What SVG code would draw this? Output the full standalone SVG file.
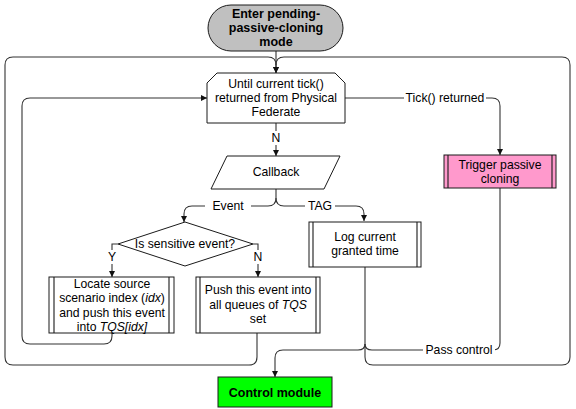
<svg xmlns="http://www.w3.org/2000/svg" width="576" height="409" viewBox="0 0 576 409">
<style>
.n{stroke:#1a1a1a;stroke-width:1;fill:#fff}
.c{stroke:#333;stroke-width:1.1;fill:none}
.t{font-family:"Liberation Sans",Arial,sans-serif;font-size:12.2px;fill:#000;text-anchor:middle;dominant-baseline:central}
.b{font-weight:bold;font-size:12.5px}
.lb{fill:#fff;stroke:none}
</style>
<defs>
<marker id="a" viewBox="0 0 8 8" refX="8" refY="4" markerWidth="6" markerHeight="6" markerUnits="userSpaceOnUse" orient="auto">
<path d="M0,0 L8,4 L0,8 Z" fill="#111"/>
</marker>
</defs>
<rect width="576" height="409" fill="#fff"/>
<g id="connectors">
<path class="c" d="M257,333 L257,357 Q257,365 249,365 L13,365 Q5,365 5,357 L5,65 Q5,57 13,57 L268,57 Q276,57 276,65 L276,73" marker-end="url(#a)"/>
<path class="c" d="M365,267 L365,357 Q365,365 373,365 L562,365 Q570,365 570,357 L570,65 Q570,57 562,57 L284,57 Q276,57 276,65"/>
<path class="c" d="M276,51 L276,73" marker-end="url(#a)"/>
<path class="c" d="M112,333 L112,336 Q112,344 104,344 L30,344 Q22,344 22,336 L22,106 Q22,98 30,98 L207,98" marker-end="url(#a)"/>
<path class="c" d="M276,123 L276,131"/>
<path class="c" d="M276,145 L276,156" marker-end="url(#a)"/>
<path class="c" d="M345,98 L492,98 Q500,98 500,106 L500,155" marker-end="url(#a)"/>
<path class="c" d="M276,189 L276,198 Q276,206 268,206 L192,206 Q184,206 184,214 L184,222" marker-end="url(#a)"/>
<path class="c" d="M276,198 Q276,206 284,206 L356,206 Q364,206 364,214 L364,221" marker-end="url(#a)"/>
<path class="c" d="M118,244 L112,244 L112,250"/>
<path class="c" d="M112,264 L112,277" marker-end="url(#a)"/>
<path class="c" d="M253,244 L258,244 L258,250"/>
<path class="c" d="M258,264 L258,277" marker-end="url(#a)"/>
<path class="c" d="M500,188 L500,343 Q500,350 493,350 L372,350 Q365,350 365,344"/>
<path class="c" d="M365,344 Q365,350 358,350 L283,350 Q275,350 275,358 L275,377" marker-end="url(#a)"/>
<rect class="lb" x="270" y="132" width="12" height="12"/>
<text class="t" x="276" y="138">N</text>
<rect class="lb" x="404" y="91" width="82" height="14"/>
<text class="t" x="445" y="98">Tick() returned</text>
<rect class="lb" x="205" y="199" width="46" height="14"/>
<text class="t" x="228" y="206">Event</text>
<rect class="lb" x="305" y="199" width="30" height="14"/>
<text class="t" x="320" y="206">TAG</text>
<text class="t" x="112" y="257">Y</text>
<text class="t" x="258" y="257">N</text>
<rect class="lb" x="423" y="343" width="72" height="14"/>
<text class="t" x="459" y="350">Pass control</text>
</g>
<g id="start">
<rect class="n" x="208" y="5" width="135" height="46" rx="23" ry="23" style="fill:#c0c0c0"/>
<text class="t b" x="276" y="14">Enter pending-</text>
<text class="t b" x="276" y="28">passive-cloning</text>
<text class="t b" x="276" y="42">mode</text>
</g>
<g id="until">
<path class="n" d="M217,73 L335,73 L345,83 L345,123 L207,123 L207,83 Z"/>
<text class="t" x="276" y="84">Until current tick()</text>
<text class="t" x="276" y="98">returned from Physical</text>
<text class="t" x="276" y="112">Federate</text>
</g>
<g id="callback">
<path class="n" d="M227,156 L340,156 L324,189 L211,189 Z"/>
<text class="t" x="276" y="172">Callback</text>
</g>
<g id="sensitive">
<path class="n" d="M185,222 L253,244 L185,266 L118,244 Z"/>
<text class="t" x="185" y="244">Is sensitive event?</text>
</g>
<g id="locate">
<rect class="n" x="49" y="277" width="125" height="56"/>
<path class="c" d="M54,277 L54,333 M169,277 L169,333" style="stroke:#1a1a1a"/>
<text class="t" x="112" y="284">Locate source</text>
<text class="t" x="112" y="298">scenario index (<tspan font-style="italic">idx</tspan>)</text>
<text class="t" x="112" y="313">and push this event</text>
<text class="t" x="112" y="327">into <tspan font-style="italic">TQS[idx]</tspan></text>
</g>
<g id="push">
<rect class="n" x="196" y="277" width="124" height="56"/>
<path class="c" d="M200,277 L200,333 M316,277 L316,333" style="stroke:#1a1a1a"/>
<text class="t" x="258" y="290">Push this event into</text>
<text class="t" x="258" y="305">all queues of <tspan font-style="italic">TQS</tspan></text>
<text class="t" x="258" y="319">set</text>
</g>
<g id="log">
<rect class="n" x="309" y="222" width="112" height="45"/>
<path class="c" d="M313,222 L313,267 M417,222 L417,267" style="stroke:#1a1a1a"/>
<text class="t" x="365" y="237">Log current</text>
<text class="t" x="365" y="251">granted time</text>
</g>
<g id="trigger">
<rect class="n" x="444" y="155" width="112" height="33" style="fill:#ff99cc"/>
<path class="c" d="M448,155 L448,188 M552,155 L552,188" style="stroke:#1a1a1a"/>
<text class="t" x="500" y="165">Trigger passive</text>
<text class="t" x="500" y="179">cloning</text>
</g>
<g id="control">
<rect class="n" x="218" y="377" width="114" height="30" style="fill:#00ff00"/>
<text class="t b" x="275" y="393">Control module</text>
</g>
</svg>
